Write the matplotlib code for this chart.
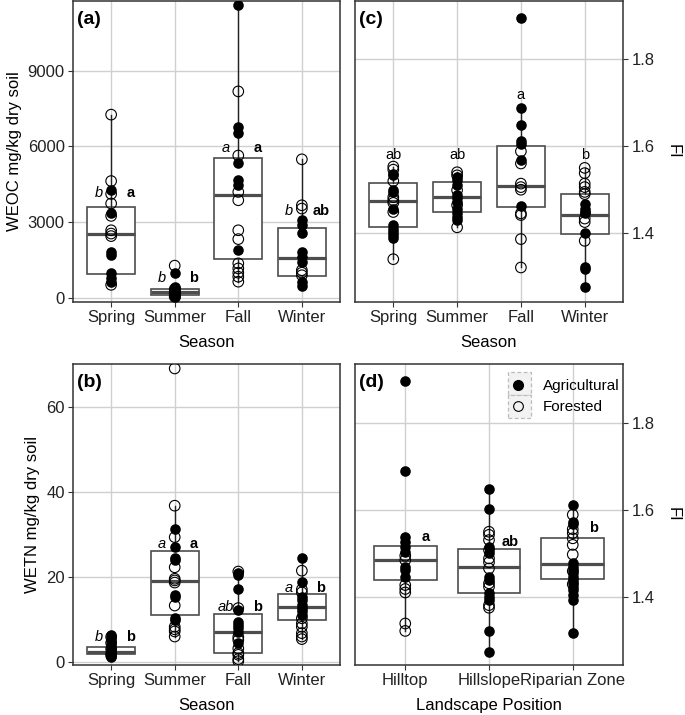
import numpy as np
import matplotlib
matplotlib.use("Agg")
import matplotlib.pyplot as plt
from matplotlib.lines import Line2D
from matplotlib.patches import Rectangle

plt.rcParams["font.family"] = ["Liberation Sans", "DejaVu Sans"]

# ---------------- categories ----------------
seasons = ["Spring", "Summer", "Fall", "Winter"]
landscape = ["Hilltop", "Hillslope", "Riparian Zone"]

# ---------------- (a) WEOC ----------------
weoc_ag = [[4290, 3380, 1830, 1720, 980, 780, 650],
           [1000, 450, 380, 300, 240, 180, 120, 60, 20],
           [11600, 6790, 6530, 5340, 4660, 4460, 1890],
           [3080, 2880, 2590, 1830, 1630, 1435, 645, 475]]
weoc_fo = [[7260, 4630, 4120, 3740, 3250, 2680, 2550, 2450, 520],
           [1280, 350, 200, 100, 50],
           [8180, 5640, 4200, 3870, 2680, 2330, 1370, 1170, 1000, 840, 645],
           [5490, 3670, 3540, 1100, 1000, 900]]
weoc_q1 = [950, 120, 1530, 870]
weoc_med = [2530, 225, 4065, 1590]
weoc_q3 = [3600, 340, 5550, 2780]
weoc_lo = [520, 20, 645, 475]
weoc_hi = [7260, 450, 11600, 5490]
weoc_lab_it = ["b", "b", "a", "b"]
weoc_lab_bf = ["a", "b", "a", "ab"]
weoc_lab_y = [4150, 790, 5930, 3450]

# ---------------- (b) WETN ----------------
wetn_ag = [[6.2, 5.5, 4.8, 4.0, 3.3, 2.7, 2.2, 1.7, 1.3, 1.0],
           [31.2, 26.9, 24.3, 23.9, 15.7, 15.1, 10.2, 9.8],
           [20.8, 20.3, 17.1, 12.2, 9.4, 8.6, 7.9, 7.0, 4.4],
           [24.3, 18.8, 15.3, 14.5, 13.3, 12.6, 11.8, 11.0]]
wetn_fo = [[5.8, 4.4, 3.0, 1.9, 1.4],
           [69.0, 36.7, 29.3, 22.2, 19.5, 19.1, 18.6, 13.2, 8.2, 7.6, 7.1, 5.9],
           [21.2, 12.6, 5.8, 5.1, 3.1, 2.0, 1.6, 0.6, 0.1],
           [21.4, 17.0, 16.3, 10.2, 9.0, 8.2, 6.7, 5.9, 5.3]]
wetn_q1 = [1.9, 11.0, 2.0, 9.8]
wetn_med = [2.3, 19.0, 6.9, 12.8]
wetn_q3 = [3.5, 26.1, 11.2, 15.9]
wetn_lo = [1.0, 5.9, 0.1, 5.3]
wetn_hi = [5.9, 36.7, 21.2, 24.3]
wetn_lab_it = ["b", "a", "ab", "a"]
wetn_lab_bf = ["b", "a", "b", "b"]
wetn_lab_y = [5.9, 27.6, 12.8, 17.3]

# ---------------- (c) FI by season ----------------
fis_ag = [[1.537, 1.533, 1.500, 1.495, 1.457, 1.419, 1.411, 1.404, 1.396, 1.389],
          [1.529, 1.522, 1.510, 1.487, 1.480, 1.472, 1.457, 1.446, 1.438, 1.430],
          [1.894, 1.687, 1.649, 1.611, 1.604, 1.567, 1.462],
          [1.468, 1.457, 1.449, 1.446, 1.400, 1.324, 1.318, 1.277]]
fis_fo = [[1.553, 1.546, 1.520, 1.483, 1.476, 1.470, 1.449, 1.341],
          [1.540, 1.533, 1.499, 1.465, 1.414],
          [1.588, 1.560, 1.514, 1.506, 1.500, 1.446, 1.442, 1.387, 1.322],
          [1.550, 1.538, 1.514, 1.506, 1.495, 1.490, 1.434, 1.426, 1.383]]
fis_q1 = [1.415, 1.449, 1.461, 1.398]
fis_med = [1.474, 1.483, 1.509, 1.442]
fis_q3 = [1.515, 1.518, 1.600, 1.491]
fis_lo = [1.341, 1.414, 1.322, 1.277]
fis_hi = [1.553, 1.540, 1.687, 1.550]
fis_lab = ["ab", "ab", "a", "b"]
fis_lab_y = [1.579, 1.579, 1.717, 1.579]

# ---------------- (d) FI by landscape position ----------------
fil_ag = [[1.896, 1.688, 1.537, 1.527, 1.514, 1.504, 1.470, 1.463, 1.447],
          [1.648, 1.602, 1.516, 1.501, 1.447, 1.440, 1.409, 1.401, 1.394, 1.323, 1.275],
          [1.611, 1.573, 1.567, 1.478, 1.470, 1.463, 1.455, 1.447, 1.440, 1.432,
           1.424, 1.417, 1.405, 1.394, 1.318]]
fil_fo = [[1.495, 1.485, 1.428, 1.419, 1.411, 1.340, 1.323],
          [1.550, 1.543, 1.531, 1.508, 1.489, 1.480, 1.466, 1.432, 1.424, 1.382, 1.376],
          [1.589, 1.556, 1.547, 1.535, 1.520, 1.498, 1.460, 1.430]]
fil_q1 = [1.440, 1.409, 1.441]
fil_med = [1.486, 1.470, 1.476]
fil_q3 = [1.518, 1.510, 1.535]
fil_lo = [1.323, 1.275, 1.318]
fil_hi = [1.537, 1.648, 1.611]
fil_lab = ["a", "ab", "b"]
fil_lab_y = [1.537, 1.527, 1.558]

# ---------------- styling ----------------
BOX_C = "#4d4d4d"
GRID_C = "#d0d0d0"
BORDER_C = "#333333"
TICK_C = "#333333"
MS = 58

W, H = 685, 715


def px_axes(l, t, r, b):
    return [l / W, 1 - b / H, (r - l) / W, (b - t) / H]


def draw_panel(ax, cats, ag, fo, q1, med, q3, lo, hi, ylim, yticks):
    pos = np.arange(1, len(cats) + 1)
    stats = [dict(q1=q1[i], med=med[i], q3=q3[i], whislo=lo[i], whishi=hi[i])
             for i in range(len(cats))]
    ax.bxp(stats, positions=pos, widths=0.75, showfliers=False, showcaps=False,
           patch_artist=True, manage_ticks=False,
           boxprops=dict(facecolor="white", edgecolor=BOX_C, linewidth=1.2),
           medianprops=dict(color=BOX_C, linewidth=2.3, solid_capstyle="butt"),
           whiskerprops=dict(color="#222222", linewidth=1.0),
           zorder=2)
    for i in range(len(cats)):
        ax.scatter(np.full(len(fo[i]), pos[i]), fo[i], s=MS, facecolors="none",
                   edgecolors="black", linewidths=0.8, zorder=3)
        ax.scatter(np.full(len(ag[i]), pos[i]), ag[i], s=MS, color="black",
                   linewidths=0, zorder=4)
    ax.set_xlim(0.4, len(cats) + 0.6)
    ax.set_ylim(*ylim)
    ax.set_xticks(pos)
    ax.set_xticklabels(cats)
    ax.set_yticks(yticks)
    ax.set_axisbelow(True)
    ax.grid(True, color=GRID_C, linewidth=1.0)
    for sp in ax.spines.values():
        sp.set_color(BORDER_C)
        sp.set_linewidth(1.1)
    ax.tick_params(axis="both", labelsize=12, colors=TICK_C, length=3.5,
                   width=0.8, labelcolor="#222222", pad=2.5)
    return pos


fig = plt.figure(figsize=(W / 100, H / 100), dpi=100)
axA = fig.add_axes(px_axes(73, 1, 340, 302))
axC = fig.add_axes(px_axes(355, 1, 623, 302))
axB = fig.add_axes(px_axes(73, 364, 340, 665))
axD = fig.add_axes(px_axes(355, 364, 623, 665))

# (a)
pA = draw_panel(axA, seasons, weoc_ag, weoc_fo, weoc_q1, weoc_med, weoc_q3,
                weoc_lo, weoc_hi, (-160, 11760), [0, 3000, 6000, 9000])
axA.set_ylabel("WEOC mg/kg dry soil", fontsize=12, labelpad=4)
axA.set_xlabel("Season", fontsize=12, labelpad=7)
for i in range(4):
    axA.text(pA[i] - 0.2, weoc_lab_y[i], weoc_lab_it[i], style="italic",
             fontsize=10.5, ha="center", va="center", zorder=5)
    axA.text(pA[i] + 0.3, weoc_lab_y[i], weoc_lab_bf[i], fontweight="bold",
             fontsize=10.5, ha="center", va="center", zorder=5)

# (b)
pB = draw_panel(axB, seasons, wetn_ag, wetn_fo, wetn_q1, wetn_med, wetn_q3,
                wetn_lo, wetn_hi, (-0.8, 70.05), [0, 20, 40, 60])
axB.set_ylabel("WETN mg/kg dry soil", fontsize=12, labelpad=4)
axB.set_xlabel("Season", fontsize=12, labelpad=7)
for i in range(4):
    axB.text(pB[i] - 0.2, wetn_lab_y[i], wetn_lab_it[i], style="italic",
             fontsize=10.5, ha="center", va="center", zorder=5)
    axB.text(pB[i] + 0.3, wetn_lab_y[i], wetn_lab_bf[i], fontweight="bold",
             fontsize=10.5, ha="center", va="center", zorder=5)

# (c)
pC = draw_panel(axC, seasons, fis_ag, fis_fo, fis_q1, fis_med, fis_q3,
                fis_lo, fis_hi, (1.243, 1.932), [1.4, 1.6, 1.8])
axC.yaxis.tick_right()
axC.yaxis.set_label_position("right")
axC.set_ylabel("FI", fontsize=12, rotation=-90, va="bottom", labelpad=8)
axC.set_xlabel("Season", fontsize=12, labelpad=7)
for i in range(4):
    axC.text(pC[i], fis_lab_y[i], fis_lab[i], fontsize=10.5, ha="center",
             va="center", zorder=5)

# (d)
pD = draw_panel(axD, landscape, fil_ag, fil_fo, fil_q1, fil_med, fil_q3,
                fil_lo, fil_hi, (1.245, 1.934), [1.4, 1.6, 1.8])
axD.yaxis.tick_right()
axD.yaxis.set_label_position("right")
axD.set_ylabel("FI", fontsize=12, rotation=-90, va="bottom", labelpad=8)
axD.set_xlabel("Landscape Position", fontsize=12, labelpad=7)
for i in range(3):
    axD.text(pD[i] + 0.25, fil_lab_y[i], fil_lab[i], fontweight="bold",
             fontsize=10.5, ha="center", va="center", zorder=5)

# panel tags
for ax, tag in [(axA, "(a)"), (axB, "(b)"), (axC, "(c)"), (axD, "(d)")]:
    ax.text(0.015, 0.94, tag, transform=ax.transAxes, fontsize=14,
            fontweight="bold", ha="left", va="center", zorder=6)

# legend key backgrounds (dashed cells)
for k in range(2):
    y0 = 1 - (8 + 23 * (k + 1)) / 301
    axD.add_patch(Rectangle((0.571, y0), 0.086, 23 / 301, transform=axD.transAxes,
                            facecolor="#f2f2f2", edgecolor="#bbbbbb",
                            linestyle=(0, (3, 2)), linewidth=0.9, zorder=5))
handles = [Line2D([], [], marker="o", linestyle="none", markersize=7,
                  markerfacecolor="black", markeredgecolor="black"),
           Line2D([], [], marker="o", linestyle="none", markersize=7,
                  markerfacecolor="none", markeredgecolor="black",
                  markeredgewidth=0.8)]
leg = axD.legend(handles, ["Agricultural", "Forested"], loc="upper left",
                 bbox_to_anchor=(0.524, 0.99), frameon=False, fontsize=11,
                 handlelength=1.4, handletextpad=0.9, labelspacing=0.45,
                 borderpad=0.3)
leg.set_zorder(7)

fig.savefig("out.png", dpi=100)
